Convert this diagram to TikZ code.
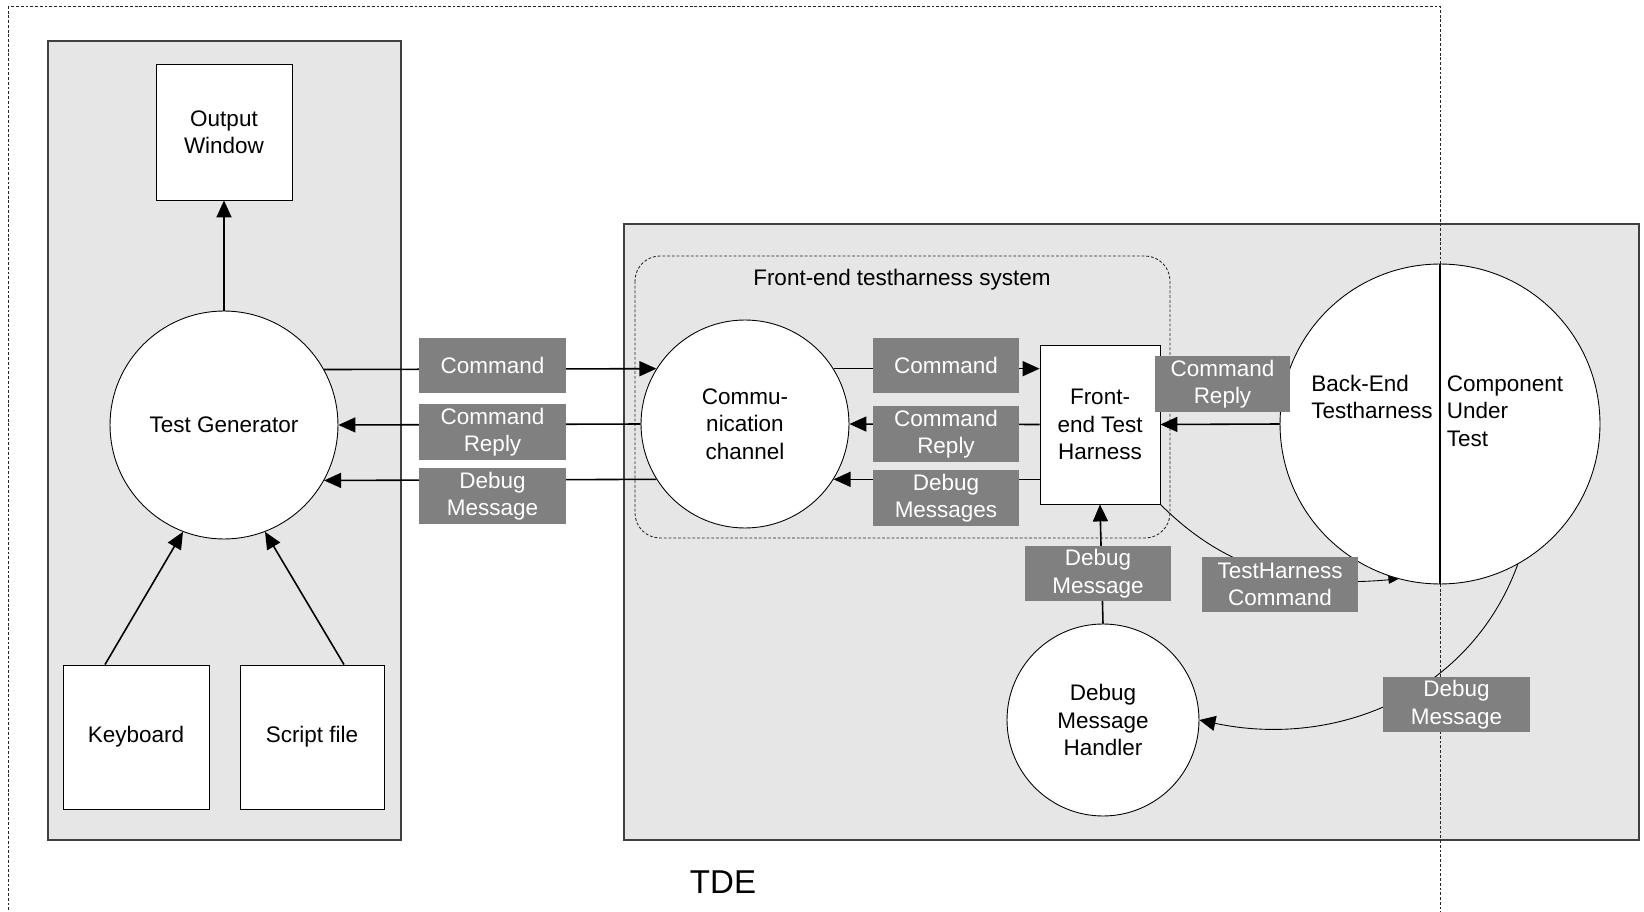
\documentclass[tikz,border=0pt]{standalone}
\usepackage{fontspec}
\setmainfont{Liberation Sans}
\usetikzlibrary{arrows.meta}
\definecolor{panelgray}{HTML}{E6E6E6}
\definecolor{lblgray}{HTML}{808080}

\begin{document}
\begin{tikzpicture}[
  x=0.02cm, y=-0.02cm,
  font=\fontsize{12.8}{15.6}\selectfont,
  panel/.style={draw=black!75,line width=0.6pt,fill=panelgray},
  tdeframe/.style={draw=black!85,line width=0.5pt,dash pattern=on 1.6pt off 1.1pt},
  blk/.style={draw,line width=0.5pt,fill=white,align=center,inner sep=0pt},
  proc/.style={circle,draw,line width=0.5pt,fill=white,align=center,inner sep=0pt},
  lbl/.style={fill=lblgray,text=white,align=center,inner sep=0pt,
              minimum width=2.94cm,minimum height=1.12cm},
  arr/.style={-{Triangle[length=0.34cm,width=0.3cm]},line width=0.9pt},
  thinarr/.style={-{Triangle[length=0.2cm,width=0.16cm]},line width=0.5pt},
  curvarr/.style={-{Triangle[length=0.32cm,width=0.3cm]},line width=0.5pt}
]
\useasboundingbox (0,0) rectangle (1644,912);

% panels and frames
\draw[panel] (48,41) rectangle (401,840);
\draw[panel] (624,224) rectangle (1639,840);
\draw[tdeframe] (8,6) rectangle (1440,930);
\draw[tdeframe,rounded corners=0.5cm] (635,256) rectangle (1170,538);
\node (fets) at (902,280) {Front-end testharness system};
\node[font=\fontsize{18.8}{22}\selectfont] (tde) at (723,882) {TDE};

% blocks
\node[blk,minimum width=2.72cm,minimum height=2.72cm] (OW) at (224,132) {Output\\Window};
\node[proc,minimum size=4.56cm] (TG) at (224,425) {Test Generator};
\node[blk,minimum width=2.92cm,minimum height=2.88cm] (KB) at (136,737) {Keyboard};
\node[blk,minimum width=2.88cm,minimum height=2.88cm] (SF) at (312,737) {Script file};
\node[proc,minimum size=4.16cm] (CC) at (745,424) {Commu-\\nication\\channel};
\node[blk,minimum width=2.4cm,minimum height=3.18cm] (FE) at (1100,424.5) {Front-\\end Test\\Harness};
\node[proc,minimum size=6.4cm] (BE) at (1440,424) {};
\node[proc,minimum size=3.84cm] (DMH) at (1103,720) {Debug\\Message\\Handler};
\draw[line width=0.8pt] (BE.north) -- (BE.south);
\node[align=left] (BEtxt) at (1372,397) {Back-End\\Testharness};
\node[align=left] (CUTtxt) at (1505,411) {Component\\Under\\Test};

% connectors
\draw[arr] (TG) -- (OW);
\draw[arr] ([xshift=-0.62cm]KB.north) -- (TG.249);
\draw[arr] ([xshift=0.64cm]SF.north) -- (TG.291);
\draw[arr] (TG.29) -- (CC.148);
\draw[arr] (CC.west) -- (TG.east);
\draw[arr] (CC.212) -- (TG.331);
\draw[arr] (CC.32) -- (CC.32 -| FE.west);
\draw[arr] (FE.west) -- (CC.east);
\draw[arr] (FE.west |- CC.328) -- (CC.328);
\draw[arr] (BE.west) -- (FE.east);
\draw[arr] (DMH.north) -- (FE.south);
\draw[thinarr] (FE.south east) to[out=-45,in=185] (BE.255);
\draw[curvarr] (BE.299) to[out=-110,in=-12] (DMH.east);

% labels
\node[lbl] (cmdA) at (492.5,365.5) {Command};
\node[lbl] (rplA) at (492.5,432) {Command\\Reply};
\node[lbl] (dbgA) at (492.5,496) {Debug\\Message};
\node[lbl] (cmdB) at (946,365.5) {Command};
\node[lbl] (rplB) at (946,434) {Command\\Reply};
\node[lbl] (dbgB) at (946,498) {Debug\\Messages};
\node[lbl,minimum width=2.7cm] (rplC) at (1222.5,384) {Command\\Reply};
\node[lbl] (dbgC) at (1098,573.5) {Debug\\Message};
\node[lbl,minimum width=3.12cm] (thC) at (1280,584.5) {TestHarness\\Command};
\node[lbl] (dbgD) at (1456.5,704.5) {Debug\\Message};
\end{tikzpicture}
\end{document}
